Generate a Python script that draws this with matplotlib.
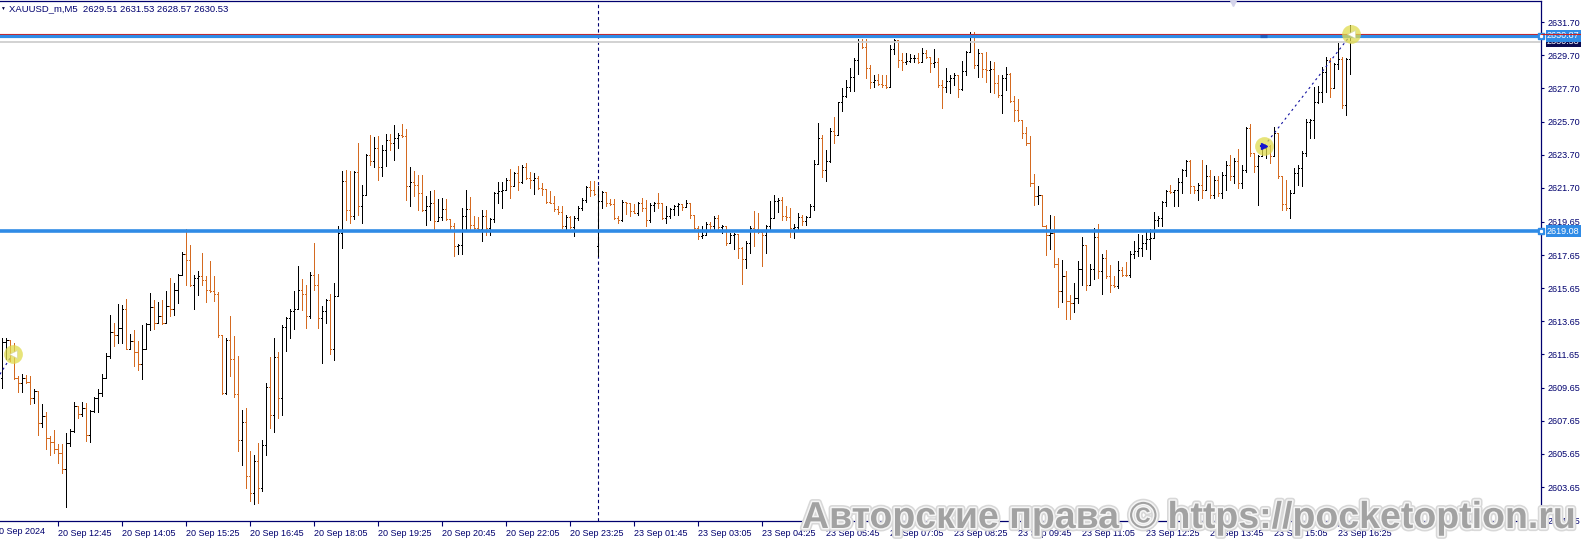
import matplotlib
matplotlib.use("Agg")
import matplotlib.pyplot as plt
import matplotlib.patheffects as pe
from matplotlib.collections import LineCollection
from matplotlib.transforms import blended_transform_factory

plt.rcParams['font.family'] = ['Liberation Sans', 'DejaVu Sans']

# XAUUSD_m M5 bars, index 0 = 20 Sep 12:45
first_bar = -14
first_open = 2610.20
gap_bar = 135          # 23 Sep opening bar
gap_open = 2618.20

highs = [
    2612.65, 2612.65, 2612.50, 2612.35, 2610.34, 2610.50, 2610.44, 2610.38, 2609.58, 2609.44,
    2608.64, 2608.17, 2606.73, 2607.09, 2606.27, 2606.23, 2606.93, 2607.13, 2608.78, 2608.53,
    2608.78, 2608.74, 2608.29, 2609.10, 2609.58, 2610.50, 2611.75, 2614.06, 2613.56, 2614.72,
    2614.66, 2615.00, 2612.91, 2613.11, 2612.45, 2613.40, 2613.52, 2615.36, 2614.92, 2614.80,
    2614.92, 2615.50, 2616.27, 2615.96, 2616.53, 2617.81, 2619.22, 2618.27, 2616.47, 2616.67,
    2617.77, 2616.41, 2617.31, 2616.41, 2615.40, 2612.85, 2612.65, 2614.00, 2612.75, 2611.55,
    2608.30, 2608.40, 2605.80, 2605.60, 2606.30, 2606.50, 2609.90, 2611.49, 2612.65, 2611.79,
    2613.40, 2613.92, 2614.40, 2615.47, 2616.97, 2616.21, 2615.87, 2616.60, 2618.38, 2616.53,
    2614.60, 2615.00, 2615.27, 2615.97, 2619.38, 2622.70, 2622.80, 2622.70, 2622.70, 2624.44,
    2621.89, 2623.76, 2624.90, 2624.76, 2624.84, 2624.30, 2624.96, 2624.96, 2625.51, 2625.00,
    2625.57, 2625.25, 2622.96, 2622.70, 2622.50, 2622.50, 2621.19, 2621.49, 2621.55, 2621.03,
    2621.09, 2621.03, 2619.84, 2619.58, 2618.30, 2620.48, 2621.59, 2621.15, 2619.98, 2619.94,
    2620.34, 2620.34, 2619.88, 2621.43, 2622.03, 2622.03, 2622.29, 2622.83, 2622.69, 2623.03,
    2623.09, 2623.23, 2622.69, 2622.59, 2622.43, 2621.99, 2621.63, 2621.49, 2621.19, 2620.58,
    2620.58, 2620.08, 2620.02, 2619.98, 2620.58, 2621.09, 2621.79, 2622.09, 2622.09, 2621.83,
    2621.49, 2621.43, 2621.03, 2621.03, 2619.98, 2620.98, 2620.88, 2620.82, 2620.74, 2620.88,
    2621.09, 2620.98, 2620.82, 2620.88, 2621.39, 2620.78, 2620.58, 2620.48, 2620.68, 2620.78,
    2620.74, 2620.99, 2620.79, 2620.08, 2619.38, 2619.38, 2619.64, 2619.64, 2619.98, 2620.08,
    2619.44, 2619.40, 2618.98, 2618.98, 2618.92, 2618.12, 2618.48, 2619.38, 2620.33, 2620.18,
    2619.08, 2619.48, 2620.89, 2621.29, 2621.09, 2621.13, 2620.59, 2620.49, 2619.52, 2620.18,
    2620.08, 2619.98, 2620.73, 2623.40, 2625.61, 2624.90, 2624.00, 2625.31, 2625.95, 2626.91,
    2627.71, 2628.22, 2628.96, 2629.52, 2630.69, 2630.69, 2630.69, 2629.12, 2628.52, 2628.56,
    2628.52, 2628.52, 2630.33, 2630.69, 2630.63, 2629.82, 2629.82, 2629.76, 2629.72, 2629.82,
    2630.12, 2630.02, 2629.62, 2630.08, 2629.52, 2628.22, 2628.92, 2628.52, 2628.62, 2628.52,
    2629.36, 2629.96, 2631.13, 2631.09, 2630.08, 2629.82, 2629.92, 2629.36, 2629.32, 2628.52,
    2628.52, 2629.02, 2628.62, 2627.27, 2627.07, 2625.81, 2625.35, 2624.86, 2622.53, 2621.79,
    2621.30, 2619.48, 2620.08, 2619.98, 2617.47, 2617.37, 2616.67, 2615.23, 2615.97, 2617.27,
    2618.72, 2618.28, 2617.11, 2619.28, 2619.52, 2617.71, 2617.97, 2617.07, 2616.37, 2617.31,
    2616.91, 2617.23, 2617.90, 2618.50, 2618.90, 2618.88, 2619.18, 2619.20, 2620.22, 2619.98,
    2620.89, 2621.59, 2621.89, 2621.59, 2622.29, 2622.83, 2623.40, 2623.40, 2621.83, 2621.99,
    2623.40, 2623.10, 2622.79, 2622.39, 2622.39, 2622.69, 2623.30, 2623.70, 2623.50, 2624.04,
    2623.10, 2625.40, 2625.57, 2623.80, 2623.70, 2624.24, 2624.30, 2624.30, 2625.40, 2625.00,
    2622.40, 2622.19, 2621.59, 2622.89, 2623.10, 2623.90, 2625.85, 2625.85, 2627.81, 2627.85,
    2629.02, 2629.58, 2629.52, 2629.22, 2630.46, 2629.58, 2629.52, 2631.53,
]
lows = [
    2609.64, 2611.35, 2611.25, 2610.14, 2609.38, 2609.38, 2609.94, 2608.68, 2608.74, 2606.77,
    2607.29, 2605.92, 2605.56, 2605.72, 2605.12, 2604.52, 2602.47, 2606.13, 2606.99, 2607.83,
    2607.93, 2606.43, 2606.37, 2608.19, 2608.17, 2609.14, 2610.20, 2611.45, 2612.19, 2612.35,
    2612.35, 2611.95, 2611.95, 2610.94, 2610.70, 2610.18, 2611.95, 2613.15, 2613.19, 2613.56,
    2613.46, 2613.52, 2613.96, 2614.06, 2614.76, 2616.47, 2615.86, 2615.76, 2614.40, 2615.26,
    2615.86, 2614.80, 2615.40, 2614.86, 2612.71, 2609.24, 2609.24, 2610.35, 2609.10, 2605.80,
    2605.00, 2603.60, 2602.80, 2602.60, 2602.70, 2603.40, 2605.60, 2607.20, 2607.00, 2607.80,
    2608.00, 2611.85, 2612.65, 2613.16, 2614.40, 2614.32, 2613.26, 2613.86, 2615.53, 2613.26,
    2611.15, 2613.56, 2611.65, 2611.31, 2615.17, 2618.08, 2619.78, 2619.58, 2619.82, 2620.08,
    2619.58, 2621.29, 2623.10, 2622.99, 2622.15, 2622.39, 2623.04, 2623.96, 2623.40, 2624.10,
    2624.80, 2620.95, 2620.59, 2621.19, 2620.39, 2620.29, 2619.48, 2619.78, 2619.22, 2619.68,
    2619.78, 2619.78, 2619.08, 2617.61, 2617.73, 2617.73, 2619.08, 2619.18, 2619.08, 2619.18,
    2618.48, 2618.88, 2618.88, 2619.62, 2620.82, 2620.48, 2621.59, 2621.09, 2621.79, 2621.59,
    2621.99, 2622.23, 2621.69, 2621.35, 2621.63, 2621.29, 2620.78, 2620.78, 2620.28, 2620.14,
    2619.28, 2619.18, 2619.28, 2618.82, 2619.78, 2620.38, 2620.88, 2621.19, 2621.29, 2617.61,
    2620.48, 2620.62, 2620.68, 2619.82, 2619.58, 2619.68, 2620.14, 2619.98, 2620.18, 2620.08,
    2620.28, 2619.42, 2619.62, 2620.28, 2620.48, 2619.82, 2619.58, 2619.88, 2620.08, 2620.08,
    2620.39, 2620.53, 2619.88, 2619.24, 2618.64, 2618.68, 2618.88, 2619.24, 2619.24, 2619.24,
    2618.98, 2618.28, 2618.38, 2618.04, 2617.47, 2615.91, 2616.87, 2617.77, 2618.18, 2618.98,
    2616.97, 2617.77, 2619.24, 2619.88, 2620.24, 2619.78, 2619.78, 2618.72, 2618.68, 2619.18,
    2619.48, 2619.44, 2619.92, 2620.39, 2623.14, 2622.33, 2622.13, 2623.26, 2624.40, 2624.90,
    2626.35, 2627.21, 2627.55, 2627.55, 2628.56, 2630.12, 2628.36, 2627.71, 2627.81, 2627.91,
    2627.81, 2627.71, 2627.82, 2629.76, 2629.02, 2628.82, 2629.16, 2629.32, 2629.32, 2629.22,
    2629.28, 2629.52, 2628.72, 2629.02, 2627.81, 2626.55, 2627.51, 2627.41, 2627.91, 2627.21,
    2627.61, 2628.52, 2629.92, 2628.92, 2628.42, 2628.42, 2628.12, 2627.51, 2627.41, 2627.21,
    2626.21, 2627.61, 2626.91, 2625.71, 2625.71, 2624.70, 2624.30, 2621.79, 2620.69, 2620.73,
    2619.38, 2617.63, 2618.04, 2616.91, 2614.50, 2614.82, 2613.76, 2613.82, 2614.22, 2614.76,
    2615.87, 2615.57, 2615.87, 2616.23, 2616.27, 2615.31, 2616.27, 2615.43, 2615.71, 2615.67,
    2616.37, 2616.37, 2616.30, 2617.50, 2617.60, 2617.60, 2618.00, 2617.40, 2618.70, 2619.38,
    2619.42, 2620.59, 2621.39, 2620.59, 2620.59, 2621.39, 2622.39, 2621.39, 2621.39, 2620.99,
    2621.10, 2621.60, 2621.09, 2621.09, 2621.19, 2621.09, 2621.59, 2622.19, 2621.99, 2621.69,
    2621.69, 2622.69, 2623.60, 2622.69, 2620.69, 2623.60, 2623.50, 2623.20, 2623.60, 2622.30,
    2620.39, 2620.35, 2619.88, 2621.39, 2621.89, 2621.80, 2623.60, 2624.70, 2624.70, 2626.85,
    2626.90, 2627.51, 2627.17, 2627.71, 2628.86, 2626.51, 2626.10, 2628.57,
]
closes = [
    2612.39, 2612.50, 2611.60, 2610.20, 2609.90, 2610.24, 2609.98, 2609.04, 2609.44, 2607.49,
    2607.93, 2606.63, 2606.37, 2605.92, 2605.72, 2604.72, 2606.29, 2607.03, 2608.53, 2608.03,
    2608.43, 2606.77, 2608.23, 2609.04, 2609.34, 2610.24, 2611.55, 2612.99, 2612.85, 2613.25,
    2614.40, 2611.99, 2612.45, 2611.79, 2611.05, 2611.95, 2613.46, 2614.52, 2613.56, 2613.96,
    2613.52, 2614.60, 2614.40, 2615.52, 2616.47, 2617.71, 2617.33, 2615.86, 2616.27, 2616.37,
    2616.17, 2615.56, 2615.46, 2615.32, 2612.85, 2609.34, 2612.55, 2611.35, 2609.24, 2606.50,
    2607.60, 2604.30, 2603.30, 2605.20, 2603.60, 2606.20, 2609.70, 2608.00, 2611.51, 2609.00,
    2613.32, 2613.86, 2614.26, 2614.40, 2615.57, 2615.30, 2614.00, 2616.47, 2615.87, 2613.86,
    2614.26, 2614.96, 2611.95, 2615.20, 2618.98, 2622.13, 2620.39, 2619.98, 2622.66, 2620.63,
    2621.29, 2623.70, 2623.30, 2624.10, 2622.99, 2624.00, 2624.60, 2624.44, 2624.70, 2624.90,
    2624.82, 2621.79, 2622.03, 2621.89, 2621.39, 2620.39, 2620.59, 2620.79, 2619.68, 2619.94,
    2620.43, 2619.82, 2619.42, 2618.17, 2618.25, 2620.00, 2620.40, 2619.48, 2619.28, 2619.22,
    2620.02, 2619.28, 2619.82, 2621.39, 2621.49, 2621.59, 2622.20, 2621.80, 2622.59, 2622.03,
    2622.99, 2622.29, 2622.19, 2622.30, 2621.69, 2621.63, 2620.88, 2620.82, 2620.42, 2620.22,
    2619.38, 2619.94, 2619.34, 2619.88, 2620.48, 2620.98, 2621.75, 2621.60, 2621.35, 2620.90,
    2621.43, 2620.78, 2620.70, 2619.88, 2619.74, 2620.88, 2620.78, 2620.28, 2620.20, 2620.82,
    2620.48, 2619.78, 2620.68, 2620.82, 2620.78, 2619.88, 2620.00, 2620.42, 2620.58, 2620.74,
    2620.53, 2620.79, 2620.08, 2619.28, 2618.78, 2618.88, 2619.52, 2619.38, 2619.88, 2619.32,
    2619.40, 2618.38, 2618.88, 2618.92, 2618.08, 2617.43, 2618.38, 2619.28, 2619.20, 2619.04,
    2618.84, 2619.38, 2619.88, 2620.89, 2620.95, 2619.98, 2619.92, 2619.28, 2619.34, 2619.92,
    2619.68, 2619.92, 2620.59, 2623.14, 2624.70, 2622.79, 2623.34, 2625.14, 2624.90, 2626.87,
    2627.27, 2627.81, 2628.42, 2629.42, 2630.57, 2630.22, 2628.92, 2628.08, 2628.20, 2627.96,
    2627.90, 2627.82, 2630.08, 2630.63, 2629.42, 2629.30, 2629.36, 2629.52, 2629.56, 2629.32,
    2629.82, 2629.62, 2629.22, 2629.30, 2627.91, 2627.80, 2628.16, 2628.36, 2628.52, 2627.67,
    2628.76, 2629.92, 2630.93, 2629.12, 2629.82, 2628.88, 2628.82, 2628.90, 2628.02, 2627.31,
    2628.32, 2628.56, 2626.95, 2626.41, 2625.81, 2625.00, 2624.40, 2621.99, 2621.19, 2621.30,
    2619.42, 2618.88, 2619.00, 2617.11, 2615.47, 2616.37, 2614.86, 2614.76, 2615.06, 2616.83,
    2618.28, 2615.87, 2616.83, 2618.72, 2616.67, 2617.47, 2616.37, 2615.83, 2615.77, 2616.77,
    2616.47, 2616.42, 2617.70, 2617.90, 2618.10, 2618.40, 2618.60, 2618.70, 2619.78, 2619.90,
    2620.83, 2621.50, 2621.45, 2621.55, 2622.03, 2622.79, 2623.30, 2621.83, 2621.55, 2621.89,
    2621.60, 2622.40, 2621.30, 2622.20, 2621.40, 2622.50, 2623.10, 2622.40, 2623.30, 2622.00,
    2622.80, 2625.30, 2623.80, 2623.00, 2623.60, 2624.10, 2624.20, 2623.60, 2625.00, 2622.40,
    2620.70, 2620.48, 2621.40, 2622.60, 2622.90, 2623.80, 2625.70, 2625.80, 2626.90, 2627.50,
    2628.72, 2629.42, 2627.71, 2629.18, 2629.50, 2626.71, 2629.51, 2630.53,
]

time_ticks = [-16, 0, 16, 32, 48, 64, 80, 96, 112, 128, 144,
              160, 176, 192, 208, 224, 240, 256, 272, 288, 304, 320]
time_labels = ["20 Sep 2024", "20 Sep 12:45", "20 Sep 14:05", "20 Sep 15:25",
               "20 Sep 16:45", "20 Sep 18:05", "20 Sep 19:25", "20 Sep 20:45",
               "20 Sep 22:05", "20 Sep 23:25", "23 Sep 01:45", "23 Sep 03:05",
               "23 Sep 04:25", "23 Sep 05:45", "23 Sep 07:05", "23 Sep 08:25",
               "23 Sep 09:45", "23 Sep 11:05", "23 Sep 12:25", "23 Sep 13:45",
               "23 Sep 15:05", "23 Sep 16:25"]

price_ticks = [2631.70, 2629.70, 2627.70, 2625.70, 2623.70, 2621.70, 2619.65, 2617.65,
               2615.65, 2613.65, 2611.65, 2609.65, 2607.65, 2605.65, 2603.65, 2601.65]

level_low = 2619.08
level_high = 2630.87
ask_line = 2630.98
bid_line = 2630.53

trade_x = [-11.4, 301.5, 323.3]
trade_y = [2611.68, 2624.24, 2630.99]
prev_trade_x = [-14.6, -11.4]
prev_trade_y = [2610.45, 2611.68]

NAVY = '#00006e'
BLUE = '#2f8be6'
DOWN = '#d46a20'
FS = 6.5

assert len(highs) == len(lows) == len(closes)
bars = list(range(first_bar, first_bar + len(closes)))
opens = [first_open] + closes[:-1]
opens[gap_bar - first_bar] = gap_open

fig = plt.figure(figsize=(15.81, 5.41), dpi=100)
ax = fig.add_axes([0, 20 / 541, 1541 / 1581, 520 / 541])
ax.set_xlim(-14.575, 370.675)
ax.set_ylim(2601.60, 2632.98)

seg_up, seg_dn = [], []
for j, o, h, l, c in zip(bars, opens, highs, lows, closes):
    s = [[(j, l), (j, h)], [(j - 0.3, o), (j, o)], [(j, c), (j + 0.3, c)]]
    if c >= o:
        seg_up.extend(s)
    else:
        seg_dn.extend(s)
ax.add_collection(LineCollection(seg_up, colors='black', linewidths=0.7,
                                 antialiased=False, zorder=3))
ax.add_collection(LineCollection(seg_dn, colors=DOWN, linewidths=0.7,
                                 antialiased=False, zorder=3))

# period separator
ax.axvline(gap_bar, color=NAVY, lw=0.8, linestyle=(0, (3, 2.5)), zorder=2)

# horizontal levels
ax.axhline(bid_line, color='#cfcfcf', lw=1.3, zorder=4)
ax.axhline(ask_line, color='#cc2222', lw=0.8, zorder=4)
ax.axhline(level_high, color=BLUE, lw=2.3, zorder=5)
ax.axhline(level_low, color=BLUE, lw=2.6, zorder=5)
ax.plot([300.5, 302.3], [level_high, level_high], color='#1c5fc0', lw=2.3, zorder=6,
        solid_capstyle='butt')

# trades
ax.plot(trade_x[1:], trade_y[1:], color='#1010a0', lw=0.8, linestyle=(0, (2, 3)), zorder=6)
ax.plot(prev_trade_x, prev_trade_y, color='#1010a0', lw=0.8, linestyle=(0, (2, 3)), zorder=6)
ax.plot(trade_x, trade_y, 'o', ms=13.5, mfc=(0.88, 0.86, 0.30, 0.75), mec='none', zorder=7)
ax.plot([trade_x[0], trade_x[2]], [trade_y[0], trade_y[2]], '<', ms=5.5, mfc='white',
        mec='#d8d8a0', mew=0.5, zorder=8)
ax.plot([trade_x[1]], [trade_y[1]], '>', ms=5, color='#1515d0', zorder=8)
ax.plot([trade_x[1] - 0.9, trade_x[1]], [trade_y[1], trade_y[1]], color='#1515d0', lw=1.5,
        zorder=8)

# chart shift mark
ax.plot([0.8002], [1.0], 'v', ms=7, color='#d4d4ea', transform=ax.transAxes, clip_on=False,
        zorder=9)

# axes styling
ax.spines['left'].set_visible(False)
for side in ['top', 'right', 'bottom']:
    ax.spines[side].set_color(NAVY)
    ax.spines[side].set_linewidth(0.9)

ax.yaxis.tick_right()
ax.set_yticks(price_ticks)
ax.set_yticklabels(['%.2f' % p for p in price_ticks])
ax.tick_params(axis='y', which='both', direction='out', length=2.5, width=0.8, color=NAVY,
               labelcolor=NAVY, labelsize=FS, pad=2)

ax.set_xticks(time_ticks[1:])
ax.set_xticklabels(time_labels[1:])
ax.tick_params(axis='x', direction='out', length=3.5, width=0.8, color=NAVY,
               labelcolor=NAVY, labelsize=FS, pad=2)
for lbl in ax.get_xticklabels():
    lbl.set_horizontalalignment('left')
xt = ax.get_xaxis_transform()
ax.text(time_ticks[0], -0.012, time_labels[0], transform=xt, ha='left', va='top',
        fontsize=FS, color=NAVY, clip_on=False)

# price labels at the right
yt = blended_transform_factory(ax.transAxes, ax.transData)
ax.text(1 + 6 / 1541, bid_line, '%.2f' % bid_line, transform=yt, ha='left', va='center',
        fontsize=FS, color='white', clip_on=False, zorder=10,
        bbox=dict(boxstyle='square,pad=0.15', fc='#0a0a50', ec='none'))
for lvl in [level_high, level_low]:
    ax.text(1 + 6 / 1541, lvl, '%.2f' % lvl, transform=yt, ha='left', va='center',
            fontsize=FS, color='white', clip_on=False, zorder=11,
            bbox=dict(boxstyle='square,pad=0.15', fc=BLUE, ec='none'))
    ax.plot([1.0], [lvl], 's', ms=4, color=BLUE, transform=yt, clip_on=False, zorder=12)
    ax.plot([1.0], [lvl], 's', ms=1.3, color='white', transform=yt, clip_on=False, zorder=13)
ax.plot([1.0, 1.03], [ask_line, ask_line], color='#cc2222', lw=0.8, transform=yt,
        clip_on=False, zorder=12)

# header
fig.text(0.5 / 1581, 1 - 8.5 / 541, '\u25bc', fontsize=3.5, color='#000040', va='center')
fig.text(9 / 1581, 1 - 8.5 / 541, 'XAUUSD_m,M5  2629.51 2631.53 2628.57 2630.53',
         fontsize=6.8, color=NAVY, va='center', ha='left')

# watermark
fig.text(802 / 1581, 1 - 528 / 541, 'Авторские права © https://pocketoption.ru',
         fontsize=27, fontweight='bold', color='#a2a2a2', ha='left', va='baseline',
         zorder=20,
         path_effects=[pe.Stroke(linewidth=4.5, foreground='#d8d8d8'),
                       pe.Stroke(linewidth=2.2, foreground='#f6f6f6'),
                       pe.Normal()])

fig.savefig('out.png', dpi=100, facecolor='white')
